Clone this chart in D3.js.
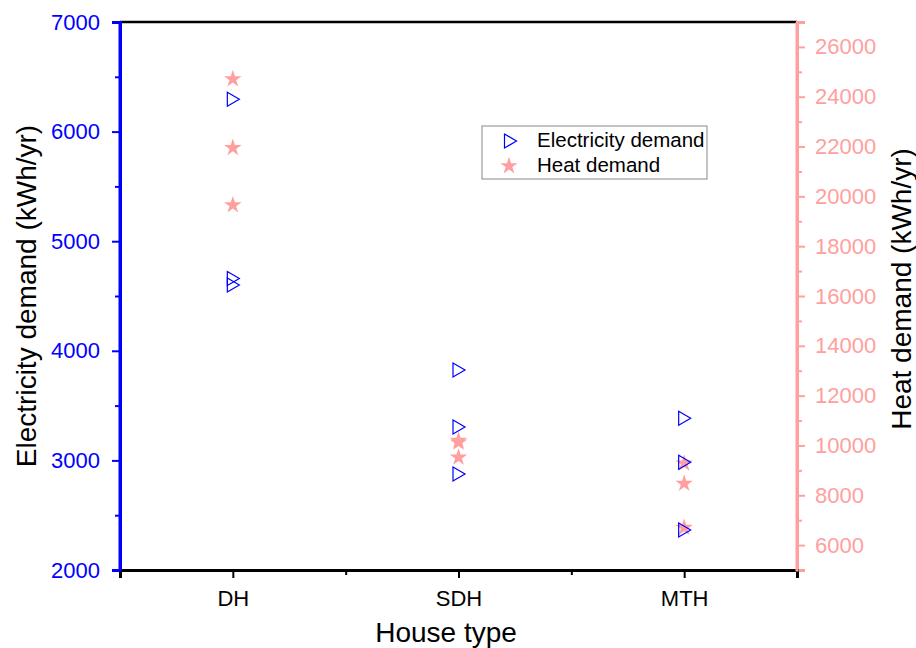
<!DOCTYPE html>
<html>
<head>
<meta charset="utf-8">
<script src="https://cdn.jsdelivr.net/npm/d3@7"></script>
<style>
  body { margin: 0; background: #fff; }
  svg { font-family: "Liberation Sans", Arial, sans-serif; }
</style>
</head>
<body>
<svg id="canvas" width="916" height="648"></svg>
<script>
const houseTypes = ["DH", "SDH", "MTH"]
const elecCat = ["DH", "DH", "DH", "SDH", "SDH", "SDH", "MTH", "MTH", "MTH"]
const elecValues = [6295, 4660, 4600, 3825, 3305, 2876, 3384, 2983, 2365]
const heatCat = ["DH", "DH", "DH", "SDH", "SDH", "SDH", "MTH", "MTH", "MTH"]
const heatValues = [24710, 21950, 19650, 10200, 10120, 9520, 9280, 8470, 6700]
const elecTicks = [2000, 3000, 4000, 5000, 6000, 7000]
const heatTicks = [6000, 8000, 10000, 12000, 14000, 16000, 18000, 20000, 22000, 24000, 26000]

const blue = "#0000ff"
const pink = "#ffa0a0"

const svg = d3.select("#canvas")
const mLeft = 120, mRight = 797, mTop = 22, mBottom = 570

const x = d3.scaleLinear().domain([0.5, 3.5]).range([mLeft, mRight])
const yE = d3.scaleLinear().domain([2000, 7000]).range([mBottom, mTop])
const yH = d3.scaleLinear().domain([5000, 27000]).range([mBottom, mTop])
const xPos = c => x(houseTypes.indexOf(c) + 1)
const fmt = d3.format("d")

// top frame line
svg.append("line")
  .attr("x1", mLeft).attr("x2", mRight).attr("y1", mTop).attr("y2", mTop)
  .attr("stroke", "#000").attr("stroke-width", 2.5)

// left axis (electricity)
const gL = svg.append("g").attr("transform", `translate(${mLeft},0)`)
gL.call(d3.axisLeft(yE).tickValues(d3.range(2500, 7000, 1000)).tickSize(5).tickFormat(""))
gL.call(g => g.append("g").call(d3.axisLeft(yE).tickValues(elecTicks).tickSize(8).tickPadding(12).tickFormat(fmt)))
gL.selectAll("path").attr("stroke", blue).attr("stroke-width", 3)
gL.selectAll("line").attr("stroke", blue).attr("stroke-width", 2)
gL.selectAll("text").attr("fill", blue).style("font-size", "22px")

// right axis (heat)
const gR = svg.append("g").attr("transform", `translate(${mRight},0)`)
gR.call(d3.axisRight(yH).tickValues(d3.range(7000, 27000, 2000)).tickSize(5).tickFormat(""))
gR.call(g => g.append("g").call(d3.axisRight(yH).tickValues(heatTicks).tickSize(8).tickPadding(10).tickFormat(fmt)))
gR.selectAll("path").attr("stroke", pink).attr("stroke-width", 3)
gR.selectAll("line").attr("stroke", pink).attr("stroke-width", 2)
gR.selectAll("text").attr("fill", pink).style("font-size", "22px")

// bottom axis
const gB = svg.append("g").attr("transform", `translate(0,${mBottom})`)
gB.call(d3.axisBottom(x).tickValues([1.5, 2.5]).tickSize(5).tickFormat(""))
gB.call(g => g.append("g").call(d3.axisBottom(x).tickValues([1, 2, 3]).tickSize(8).tickPadding(12)
  .tickFormat(d => houseTypes[d - 1])))
gB.selectAll("path").attr("stroke", "#000").attr("stroke-width", 3)
gB.selectAll("line").attr("stroke", "#000").attr("stroke-width", 2)
gB.selectAll("text").attr("fill", "#000").style("font-size", "22px")
// redraw colored side lines over black baseline
svg.append("line").attr("x1", mLeft).attr("x2", mLeft).attr("y1", mTop).attr("y2", mBottom + 1.5)
  .attr("stroke", blue).attr("stroke-width", 3)
svg.append("line").attr("x1", mRight).attr("x2", mRight).attr("y1", mTop).attr("y2", mBottom + 1.5)
  .attr("stroke", pink).attr("stroke-width", 3)

// axis titles
svg.append("text").attr("transform", `translate(36,${(mTop + mBottom) / 2}) rotate(-90)`)
  .attr("text-anchor", "middle").style("font-size", "28px").text("Electricity demand (kWh/yr)")
svg.append("text").attr("transform", `translate(911,289) rotate(-90)`)
  .attr("text-anchor", "middle").style("font-size", "28px").text("Heat demand (kWh/yr)")
svg.append("text").attr("x", 446).attr("y", 642)
  .attr("text-anchor", "middle").style("font-size", "28px").text("House type")

const triPath = "M-5.5,-7L6.5,0L-5.5,7Z"
const star = d3.symbol().type(d3.symbolStar).size(95)()

// heat markers
svg.append("g").selectAll("path").data(heatValues).join("path")
  .attr("d", star)
  .attr("transform", (d, i) => `translate(${xPos(heatCat[i])},${yH(d)})`)
  .attr("fill", pink)

// electricity markers
svg.append("g").selectAll("path").data(elecValues).join("path")
  .attr("d", triPath)
  .attr("transform", (d, i) => `translate(${xPos(elecCat[i])},${yE(d)})`)
  .attr("fill", "none").attr("stroke", blue).attr("stroke-width", 1.2)

// legend
const lg = svg.append("g").attr("transform", "translate(482,126)")
lg.append("rect").attr("width", 225).attr("height", 53)
  .attr("fill", "#fff").attr("stroke", "#888").attr("stroke-width", 1)
lg.append("path").attr("d", triPath).attr("transform", "translate(28,15)")
  .attr("fill", "none").attr("stroke", blue).attr("stroke-width", 1.2)
lg.append("path").attr("d", star).attr("transform", "translate(27,40)").attr("fill", pink)
lg.append("text").attr("x", 55).attr("y", 21).style("font-size", "20.5px").text("Electricity demand")
lg.append("text").attr("x", 55).attr("y", 46).style("font-size", "20.5px").text("Heat demand")
</script>
</body>
</html>
